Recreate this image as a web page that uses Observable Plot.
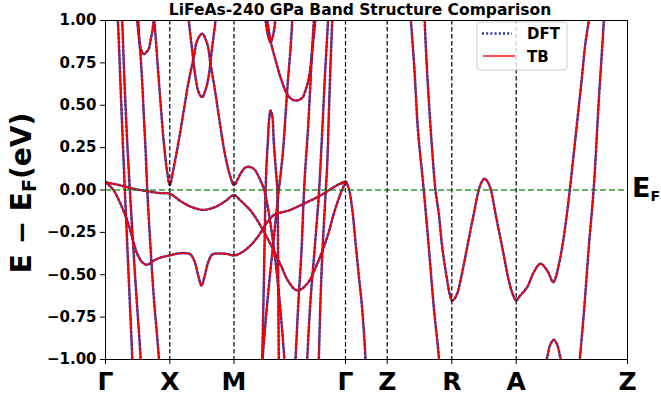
<!DOCTYPE html>
<html><head><meta charset="utf-8">
<script src="https://cdn.jsdelivr.net/npm/d3@7"></script>
<script src="https://cdn.jsdelivr.net/npm/@observablehq/plot@0.6"></script>
<style>body{margin:0;background:#fff} svg{overflow:visible}</style>
</head><body><div id="chart"></div>
<script>
// high-symmetry path (k in arbitrary path-length units)
const kTicks = [0, 0.643, 1.285, 2.40, 2.817, 3.463, 4.107, 5.22];
const kLabels = ["Γ", "X", "M", "Γ", "Z", "R", "A", "Z"];
const yTicks = [-1, -0.75, -0.5, -0.25, 0, 0.25, 0.5, 0.75, 1];

// bands: [k, E-EF (eV)]
const s1 = [[0.115,1.05],[0.123,1.0],[0.158,0.5],[0.19,0.046],[0.231,-0.5],[0.267,-0.986],[0.27,-1.05]];
const s2 = [[0.162,1.05],[0.167,1.0],[0.19,0.636],[0.217,0.282],[0.243,0.007],[0.295,-0.5],[0.35,-0.986],[0.353,-1.05]];
const s3 = [[0.312,1.05],[0.317,1.0],[0.343,0.853],[0.367,0.636],[0.383,0.44],[0.40,0.245],[0.417,0.007],[0.45,-0.337],[0.483,-0.632],[0.533,-0.986],[0.537,-1.05]];
const vBand = [[0.326,1.05],[0.343,0.86],[0.365,0.815],[0.385,0.802],[0.405,0.811],[0.433,0.833],[0.45,0.882],[0.467,0.931],[0.485,1.0],[0.50,0.912],[0.517,0.774],[0.55,0.518],[0.583,0.282],[0.617,0.105],[0.643,0.029],[0.683,0.135],[0.733,0.292],[0.783,0.469],[0.833,0.646],[0.883,0.783],[0.917,0.882],[0.967,0.922],[1.017,0.863],[1.05,0.745],[1.10,0.568],[1.15,0.37],[1.20,0.194],[1.25,0.076],[1.285,0.029],[1.35,0.096],[1.40,0.133],[1.45,0.135],[1.49,0.121],[1.517,0.096],[1.55,0.056],[1.583,0.009],[1.62,-0.091],[1.66,-0.239],[1.71,-0.475],[1.75,-0.711],[1.79,-1.006],[1.795,-1.05]];
const valley = [[0.826,1.05],[0.833,1.0],[0.867,0.823],[0.90,0.665],[0.93,0.58],[0.965,0.547],[1.0,0.59],[1.03,0.665],[1.063,0.823],[1.10,1.0],[1.107,1.05]];
const flat = [[0,0.046],[0.15,0.027],[0.283,0.007],[0.417,-0.007],[0.55,-0.019],[0.643,-0.022],[0.75,-0.065],[0.85,-0.098],[0.975,-0.117],[1.1,-0.1],[1.2,-0.065],[1.285,-0.03],[1.35,-0.062],[1.45,-0.121],[1.55,-0.21],[1.65,-0.32],[1.75,-0.44],[1.83,-0.54],[1.917,-0.593],[2.017,-0.553],[2.117,-0.435],[2.217,-0.278],[2.283,-0.14],[2.35,-0.022],[2.40,0.046]];
const lower = [[0,0.046],[0.05,0.02],[0.083,-0.003],[0.15,-0.081],[0.217,-0.18],[0.267,-0.278],[0.317,-0.376],[0.367,-0.426],[0.417,-0.441],[0.483,-0.416],[0.567,-0.396],[0.643,-0.386],[0.72,-0.375],[0.80,-0.373],[0.85,-0.38],[0.89,-0.42],[0.925,-0.50],[0.96,-0.563],[0.995,-0.50],[1.03,-0.42],[1.07,-0.38],[1.15,-0.375],[1.22,-0.378],[1.285,-0.386],[1.35,-0.373],[1.45,-0.327],[1.533,-0.268],[1.583,-0.22],[1.63,-0.18],[1.69,-0.145],[1.767,-0.131],[1.833,-0.121],[1.983,-0.081],[2.15,-0.032],[2.283,0.017],[2.35,0.038],[2.40,0.046]];
const spike = [[1.565,-1.05],[1.567,-1.0],[1.585,-0.5],[1.60,-0.032],[1.61,0.145],[1.623,0.282],[1.637,0.42],[1.65,0.469],[1.667,0.44],[1.683,0.282],[1.70,0.145],[1.717,0.009],[1.727,-0.5],[1.733,-1.0],[1.735,-1.05]];
const t1 = [[1.869,1.05],[1.867,1.0],[1.85,0.833],[1.823,0.636],[1.80,0.44],[1.777,0.243],[1.75,0.086],[1.727,-0.032],[1.68,-0.3],[1.62,-0.65],[1.57,-1.0],[1.565,-1.05]];
const vTop = [[1.59,1.05],[1.615,0.94],[1.635,0.89],[1.65,0.87],[1.665,0.89],[1.685,0.94],[1.705,1.05]];
const parab = [[1.605,1.05],[1.633,0.941],[1.657,0.863],[1.683,0.804],[1.75,0.665],[1.817,0.565],[1.87,0.533],[1.915,0.528],[1.967,0.543],[2.0,0.588],[2.035,0.665],[2.067,0.82],[2.09,0.95],[2.105,1.05]];
const sa = [[2.085,1.05],[2.083,1.0],[2.067,0.833],[2.05,0.636],[2.023,0.341],[2.0,0.145],[1.983,-0.032],[1.96,-0.357],[1.93,-0.652],[1.90,-1.006],[1.898,-1.05]];
const sb = [[2.227,1.05],[2.225,1.0],[2.20,0.735],[2.175,0.44],[2.15,0.145],[2.133,-0.032],[2.09,-0.357],[2.05,-0.652],[2.017,-1.006],[2.015,-1.05]];
const sc = [[2.269,1.05],[2.267,1.0],[2.25,0.735],[2.233,0.44],[2.217,0.145],[2.20,-0.032],[2.17,-0.357],[2.15,-0.652],[2.133,-1.006],[2.131,-1.05]];
const gz = [[2.36,0.04],[2.40,0.05],[2.433,0.007],[2.467,-0.111],[2.50,-0.308],[2.533,-0.504],[2.567,-0.701],[2.60,-0.996],[2.603,-1.05]];
const z1 = [[3.052,1.05],[3.055,1.0],[3.09,0.705],[3.125,0.351],[3.183,-0.002],[3.233,-0.337],[3.283,-0.691],[3.333,-0.986],[3.336,-1.05]];
const z2 = [[3.191,1.05],[3.192,1.0],[3.21,0.764],[3.233,0.528],[3.267,0.233],[3.30,-0.003],[3.333,-0.14],[3.367,-0.337],[3.417,-0.534],[3.445,-0.622],[3.465,-0.652],[3.483,-0.646],[3.517,-0.61],[3.55,-0.534],[3.617,-0.337],[3.683,-0.14],[3.733,0.0],[3.76,0.045],[3.792,0.066],[3.825,0.045],[3.855,-0.003],[3.90,-0.14],[3.967,-0.337],[4.033,-0.534],[4.07,-0.61],[4.107,-0.652],[4.133,-0.632],[4.217,-0.573],[4.283,-0.485],[4.35,-0.435],[4.417,-0.475],[4.477,-0.544],[4.50,-0.52],[4.53,-0.45],[4.567,-0.337],[4.61,-0.16],[4.642,-0.003],[4.68,0.20],[4.72,0.42],[4.76,0.64],[4.80,0.87],[4.833,1.0],[4.84,1.05]];
const z3 = [[4.985,1.05],[4.983,1.0],[4.933,0.528],[4.883,0.017],[4.833,-0.337],[4.783,-0.73],[4.743,-1.006],[4.74,-1.05]];
const bump = [[4.395,-1.05],[4.42,-0.98],[4.45,-0.91],[4.483,-0.884],[4.515,-0.91],[4.545,-0.98],[4.57,-1.05]];

const bands = {s1, s2, s3, vBand, valley, flat, lower, spike, t1, vTop, parab, sa, sb, sc, gz, z1, z2, z3, bump};
const rows = Object.entries(bands).flatMap(([band, pts]) => pts.map(([k, E]) => ({band, k, E})));

const FONT = "'DejaVu Sans', sans-serif";
const svg = Plot.plot({
  width: 661, height: 403,
  marginLeft: 105, marginRight: 34, marginTop: 20, marginBottom: 44,
  style: {fontFamily: FONT, fontWeight: "bold", background: "white", overflow: "visible", color: "black"},
  x: {domain: [0, 5.22]},
  y: {domain: [-1, 1]},
  marks: [
    Plot.line(rows, {x: "k", y: "E", z: "band", curve: "catmull-rom", clip: true,
      stroke: "#00008b", strokeWidth: 2.6, strokeDasharray: "2,2.2", strokeOpacity: 0.8}),
    Plot.line(rows, {x: "k", y: "E", z: "band", curve: "catmull-rom", clip: true,
      stroke: "red", strokeWidth: 1.4}),
    Plot.ruleX(kTicks.slice(1, -1), {stroke: "black", strokeWidth: 1.2, strokeDasharray: "4.5,2.5"}),
    Plot.ruleY([0], {stroke: "green", strokeOpacity: 0.8, strokeWidth: 1.5, strokeDasharray: "6,3"}),
    Plot.frame({stroke: "black", strokeWidth: 1}),
    Plot.axisY(yTicks, {tickFormat: d3.format(".2f"), fontSize: 15, tickSize: 5, tickPadding: 4, label: null}),
    Plot.axisX(kTicks, {tickFormat: d => kLabels[kTicks.indexOf(d)], fontSize: 25, tickSize: 5, tickPadding: 8, label: null})
  ]
});
document.getElementById("chart").appendChild(svg);

const g = d3.select(svg);
g.append("text").attr("x", 360).attr("y", 15).attr("text-anchor", "middle")
  .attr("font-size", 15.5).attr("font-weight", "bold").attr("font-family", FONT)
  .text("LiFeAs-240 GPa Band Structure Comparison");

const yl = g.append("text").attr("transform", "translate(31,193) rotate(-90)")
  .attr("text-anchor", "middle").attr("font-size", 28).attr("font-weight", "bold").attr("font-family", FONT);
yl.append("tspan").text("E − E");
yl.append("tspan").attr("font-size", 19).attr("dy", 5).text("F");
yl.append("tspan").attr("dy", -5).text("(eV)");

const ef = g.append("text").attr("x", 632).attr("y", 197).attr("text-anchor", "start")
  .attr("font-size", 27).attr("font-weight", "bold").attr("font-family", FONT);
ef.append("tspan").text("E");
ef.append("tspan").attr("font-size", 14).attr("dy", 4).text("F");

const lg = g.append("g").attr("font-family", FONT).attr("font-weight", "bold").attr("font-size", 15)
  .attr("text-anchor", "start");
lg.append("rect").attr("x", 477).attr("y", 22).attr("width", 90).attr("height", 48).attr("rx", 3)
  .attr("fill", "white").attr("fill-opacity", 0.8).attr("stroke", "#cccccc");
lg.append("line").attr("x1", 482).attr("x2", 512).attr("y1", 33.5).attr("y2", 33.5)
  .attr("stroke", "#00008b").attr("stroke-width", 2.6).attr("stroke-dasharray", "2,2.2").attr("stroke-opacity", 0.8);
lg.append("text").attr("x", 527).attr("y", 39).text("DFT");
lg.append("line").attr("x1", 483).attr("x2", 515).attr("y1", 56).attr("y2", 56)
  .attr("stroke", "red").attr("stroke-width", 1.4);
lg.append("text").attr("x", 527).attr("y", 61.5).text("TB");
</script></body></html>
